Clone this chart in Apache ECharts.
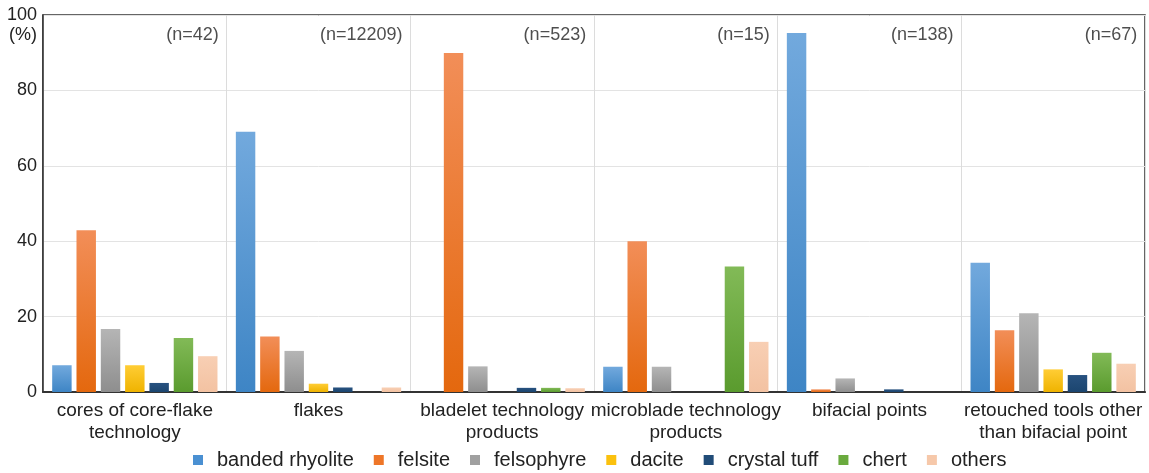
<!DOCTYPE html>
<html>
<head>
<meta charset="utf-8">
<script src="https://cdn.jsdelivr.net/npm/echarts@6/dist/echarts.min.js"></script>
<style>
html,body{margin:0;padding:0;background:#fff;}
#chart{width:1149px;height:473px;}
</style>
</head>
<body>
<div id="chart"></div>
<script>
const categories = ['cores of core-flake\ntechnology', 'flakes', 'bladelet technology\nproducts', 'microblade technology\nproducts', 'bifacial points', 'retouched tools other\nthan bifacial point'];
const nLabels = ['(n=42)', '(n=12209)', '(n=523)', '(n=15)', '(n=138)', '(n=67)'];
const seriesNames = ['banded rhyolite', 'felsite', 'felsophyre', 'dacite', 'crystal tuff', 'chert', 'others'];
const bandedRhyolite = [7.1, 69.0, 0, 6.7, 95.2, 34.3];
const felsite = [42.9, 14.7, 89.9, 40.0, 0.7, 16.4];
const felsophyre = [16.7, 10.9, 6.8, 6.7, 3.6, 20.9];
const dacite = [7.1, 2.2, 0, 0, 0, 6.0];
const crystalTuff = [2.4, 1.2, 1.1, 0, 0.7, 4.5];
const chert = [14.3, 0, 1.1, 33.3, 0, 10.4];
const others = [9.5, 1.2, 1.0, 13.3, 0, 7.5];
const yTicks = [0, 20, 40, 60, 80, 100];

const seriesData = [bandedRhyolite, felsite, felsophyre, dacite, crystalTuff, chert, others];
const colorPairs = [
  ['#72a9dd', '#3e85c5', '#4a90d2'],
  ['#f28e58', '#e4680e', '#ee7628'],
  ['#b5b5b5', '#8e8e8e', '#a0a0a0'],
  ['#ffcd35', '#efb300', '#fbc10e'],
  ['#285280', '#1b456f', '#214c78'],
  ['#82ba57', '#5a9b2e', '#6aaa3e'],
  ['#f8cfb4', '#f3c2a2', '#f6c8aa']
];
const FONT = '"Liberation Sans", Arial, Helvetica, sans-serif';

const chart = echarts.init(document.getElementById('chart'), null, {renderer: 'canvas'});
const bars = seriesNames.map((name, i) => ({
  name: name,
  type: 'bar',
  data: seriesData[i],
  barCategoryGap: '10%',
  barGap: '25%',
  itemStyle: {
    color: {type: 'linear', x: 0, y: 0, x2: 0, y2: 1, colorStops: [
      {offset: 0, color: colorPairs[i][0]}, {offset: 1, color: colorPairs[i][1]}]}
  }
}));
bars.push({
  name: 'n',
  type: 'scatter',
  symbolSize: 0,
  silent: true,
  data: nLabels.map(() => 94.6),
  label: {
    show: true,
    position: 'inside',
    align: 'right',
    offset: [84, 0],
    formatter: p => nLabels[p.dataIndex],
    fontSize: 18,
    fontFamily: FONT,
    color: '#222'
  },
  z: 5
});

chart.setOption({
  animation: false,
  backgroundColor: '#fff',
  grid: {left: 43, right: 4, top: 15, bottom: 81, show: true, borderColor: '#333', borderWidth: 1.5, backgroundColor: 'transparent'},
  legend: {
    data: seriesNames.map((n, i) => ({name: n, itemStyle: {color: colorPairs[i][2]}})),
    left: 193,
    top: 450,
    padding: 0,
    itemWidth: 10,
    itemHeight: 10,
    itemGap: 20,
    icon: 'rect',
    textStyle: {fontSize: 20, fontFamily: FONT, color: '#222', padding: [0, 0, 0, 9]}
  },
  xAxis: {
    type: 'category',
    data: categories,
    axisLine: {lineStyle: {color: '#333', width: 2}},
    axisTick: {show: false},
    splitLine: {show: true, lineStyle: {color: '#dcdcdc', width: 1}},
    axisLabel: {interval: 0, fontSize: 19, fontFamily: FONT, color: '#222', lineHeight: 22, margin: 8}
  },
  yAxis: {
    type: 'value',
    min: 0,
    max: 100,
    interval: 20,
    name: '(%)',
    nameLocation: 'end',
    nameGap: -20,
    nameTextStyle: {fontSize: 18, fontFamily: FONT, color: '#222', align: 'right', verticalAlign: 'middle', padding: [0, 6, 0, 0]},
    axisLine: {show: true, lineStyle: {color: '#333', width: 1.5}},
    axisTick: {show: false},
    splitLine: {lineStyle: {color: '#e3e3e3', width: 1}},
    axisLabel: {fontSize: 18, fontFamily: FONT, color: '#222', margin: 6,
      formatter: v => yTicks.indexOf(v) >= 0 ? String(v) : ''}
  },
  series: bars
});
</script>
</body>
</html>
